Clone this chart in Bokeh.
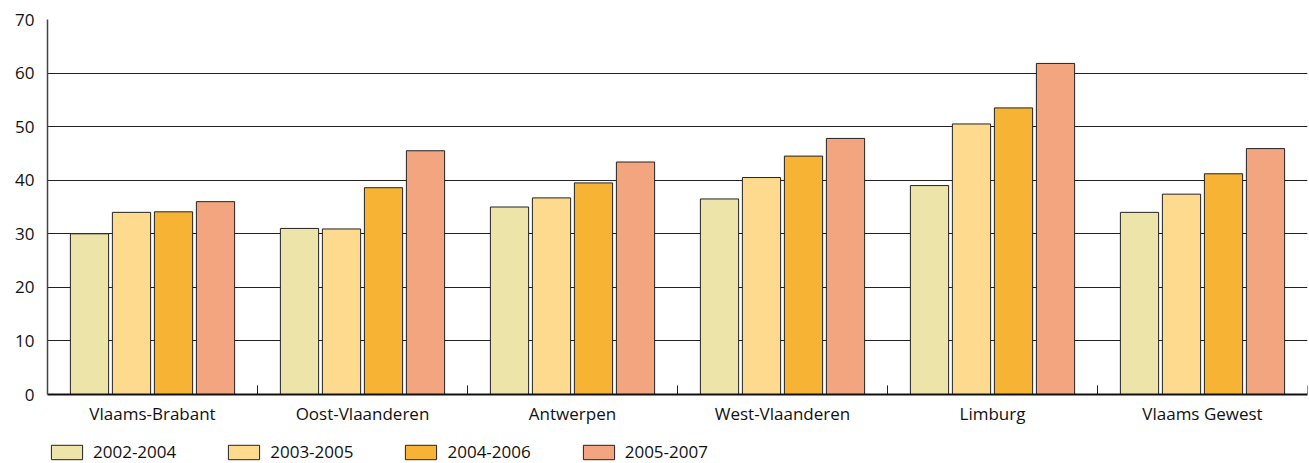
from bokeh.plotting import figure
from bokeh.layouts import column
from bokeh.models import Range1d, FixedTicker, Legend, LegendItem, ColumnDataSource
from bokeh.embed import file_html
from bokeh.resources import INLINE

categories = ["Vlaams-Brabant", "Oost-Vlaanderen", "Antwerpen", "West-Vlaanderen", "Limburg", "Vlaams Gewest"]
series = ["2002-2004", "2003-2005", "2004-2006", "2005-2007"]
v_2002_2004 = [30.0, 31.0, 35.0, 36.5, 39.0, 34.0]
v_2003_2005 = [34.0, 30.9, 36.7, 40.5, 50.5, 37.4]
v_2004_2006 = [34.1, 38.6, 39.5, 44.5, 53.5, 41.2]
v_2005_2007 = [36.0, 45.5, 43.4, 47.8, 61.8, 45.9]
colors = ["#EDE4AA", "#FDDA8E", "#F7B334", "#F2A57F"]
y_ticks = [0, 10, 20, 30, 40, 50, 60, 70]

values = [v_2002_2004, v_2003_2005, v_2004_2006, v_2005_2007]
FONT = "Open Sans"
n = len(categories)

p = figure(width=1309, height=427, output_backend="svg", toolbar_location=None,
           x_range=Range1d(0, n), y_range=Range1d(0, 70),
           min_border_left=47, min_border_top=19, min_border_right=2, min_border_bottom=0)
p.outline_line_color = None
p.background_fill_color = "white"

offsets = [-0.3, -0.1, 0.1, 0.3]
for k, s in enumerate(series):
    src = ColumnDataSource(dict(x=[i + 0.5 + offsets[k] for i in range(n)], top=values[k]))
    p.vbar(x="x", top="top", bottom=0, width=0.182, source=src,
           fill_color=colors[k], line_color="#222222", line_width=1)

# boundary ticks on the x axis
bx = [float(i) for i in range(1, n + 1)]
p.segment(x0=bx, x1=bx, y0=[0] * n, y1=[1.7] * n, line_color="#222222", line_width=1)

# grid
p.xgrid.grid_line_color = None
p.ygrid.ticker = FixedTicker(ticks=y_ticks)
p.ygrid.grid_line_color = "#222222"
p.ygrid.grid_line_width = 1
p.ygrid.level = "underlay"

# y axis
p.yaxis.ticker = FixedTicker(ticks=y_ticks)
p.yaxis.major_tick_line_color = None
p.yaxis.minor_tick_line_color = None
p.yaxis.axis_line_color = "#444444"
p.yaxis.axis_line_width = 1.5
p.yaxis.major_label_standoff = 7
p.yaxis.major_label_text_font = FONT
p.yaxis.major_label_text_font_size = "17px"
p.yaxis.major_label_text_color = "#111111"

# x axis
p.xaxis.ticker = FixedTicker(ticks=[i + 0.5 for i in range(n)])
p.xaxis.major_label_overrides = {i + 0.5: c for i, c in enumerate(categories)}
p.xaxis.major_tick_line_color = None
p.xaxis.minor_tick_line_color = None
p.xaxis.axis_line_color = "#111111"
p.xaxis.axis_line_width = 2
p.xaxis.major_label_standoff = 1
p.xaxis.major_label_text_font = FONT
p.xaxis.major_label_text_font_size = "17px"
p.xaxis.major_label_text_color = "#111111"

# legend in its own strip below the chart
lg = figure(width=1309, height=36, output_backend="svg", toolbar_location=None,
            x_range=Range1d(0, 1), y_range=Range1d(0, 1),
            x_axis_type=None, y_axis_type=None,
            min_border_left=0, min_border_top=0, min_border_right=0, min_border_bottom=0)
lg.outline_line_color = None
lg.xgrid.visible = False
lg.ygrid.visible = False
items = []
for k, s in enumerate(series):
    # proxy glyph with no drawable data; it only provides the legend swatch style
    r = lg.vbar(x=[float("nan")], top=[float("nan")], bottom=0, width=0.1,
                fill_color=colors[k], line_color="#222222", line_width=1)
    items.append(LegendItem(label=s, renderers=[r]))
legend = Legend(items=items, orientation="horizontal", location=(0, 0),
                margin=0, padding=0, spacing=48, glyph_width=39, glyph_height=18,
                label_height=18, label_standoff=7, label_text_font=FONT,
                label_text_font_size="17px", label_text_color="#111111",
                border_line_color=None, background_fill_alpha=0)
lg.add_layout(legend, "center")

layout = column(p, lg, spacing=0)
open("out.html", "w").write(file_html(layout, INLINE))
